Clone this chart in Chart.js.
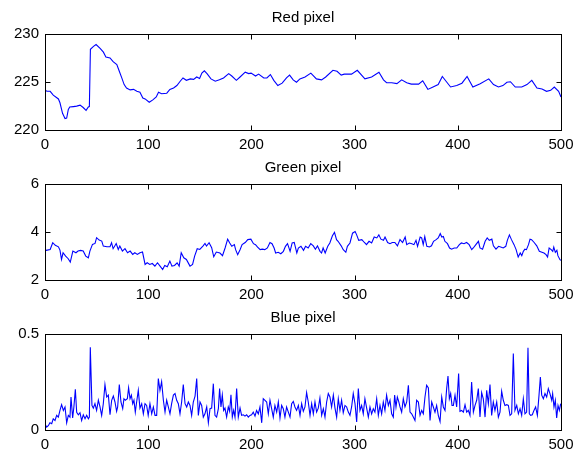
<!DOCTYPE html>
<html>
<head>
<meta charset="utf-8">
<script src="https://cdn.jsdelivr.net/npm/chart.js@4/dist/chart.umd.min.js"></script>
<style>
  body { margin: 0; background: #fff; }
  canvas { display: block; }
</style>
</head>
<body>
<canvas id="red" width="574" height="150"></canvas>
<canvas id="green" width="574" height="150"></canvas>
<canvas id="blue" width="574" height="150"></canvas>
<script>
// sample index / value pairs for each colour channel
const redT = [0, 2, 5, 8, 13, 14.5, 17, 19.4, 21, 22.6, 24, 27.5, 30.7, 34, 37, 39.8, 42, 43, 44, 47, 49.5, 53.4, 56.6, 59, 63, 66, 69.6, 72, 74.4, 76.7, 79, 82.5, 85.8, 89, 92, 94.8, 97, 101, 104.5, 107.8, 110, 113, 118, 121, 124.6, 127.8, 131, 133.7, 137, 140.8, 144, 147, 149.8, 152, 154.4, 157, 160.8, 165, 169, 173, 178, 181, 185.4, 189, 194, 197.4, 199.7, 204, 207, 212, 215, 218.4, 221.7, 225.6, 229.8, 234, 237, 240.5, 243.7, 247, 252, 257.6, 263, 268, 272, 279, 283, 287, 290, 297, 302.6, 310, 316.5, 323.6, 328, 331, 336, 341, 345.6, 350.5, 355, 362, 366, 371, 376, 381, 385, 389, 393, 399, 404, 409, 414.6, 421.7, 430, 434.6, 439.4, 443.7, 447.6, 451, 455.7, 462, 467, 471.7, 476.7, 481.6, 486, 490, 493.5, 497.7, 500];
const redV = [224.1, 224.0, 224.0, 223.6, 223.2, 222.8, 221.7, 221.15, 221.2, 222.1, 222.35, 222.4, 222.45, 222.55, 222.3, 222.0, 222.35, 222.4, 228.4, 228.7, 228.9, 228.5, 228.1, 227.6, 227.5, 227.1, 226.8, 226.1, 225.4, 224.7, 224.35, 224.15, 224.2, 224.0, 223.9, 223.3, 223.2, 222.85, 223.1, 223.4, 223.9, 223.75, 223.8, 224.2, 224.35, 224.6, 225.05, 225.4, 225.15, 225.3, 225.25, 225.5, 225.35, 225.9, 226.15, 225.85, 225.3, 225.05, 225.2, 225.4, 225.85, 225.6, 225.15, 225.5, 226.0, 225.85, 225.9, 225.6, 225.8, 225.4, 225.4, 225.75, 225.15, 224.6, 224.85, 225.4, 225.7, 225.2, 224.95, 225.3, 225.5, 225.9, 225.3, 225.2, 225.5, 226.2, 226.1, 225.7, 225.8, 225.8, 226.2, 225.3, 225.5, 226.0, 225.2, 224.9, 224.9, 224.8, 225.2, 224.9, 224.75, 224.75, 225.1, 224.2, 224.45, 224.7, 225.55, 225.0, 224.45, 224.6, 224.85, 225.55, 224.45, 224.8, 225.3, 224.7, 224.45, 224.6, 224.95, 225.0, 224.45, 224.45, 224.7, 225.15, 224.35, 224.25, 224.0, 224.1, 224.45, 224.0, 223.4];

const greenT = [0, 1, 5, 7.5, 10, 13, 14.5, 16, 17.5, 20, 22.5, 24.5, 27, 30, 32, 34.5, 37, 39.5, 42, 43.5, 46, 48.5, 50, 52.5, 55, 56.5, 60, 63, 64.5, 66, 69, 71, 72.5, 75, 77.5, 80, 82.5, 85, 87, 89.5, 92, 94.5, 97, 99, 101.5, 104, 106.5, 109, 111.5, 114, 116, 118.5, 121, 123, 125.5, 128, 130, 132, 134.5, 137, 140.5, 143, 145, 147.5, 150, 153, 155, 156.5, 159, 161.5, 163.5, 166, 169.5, 172, 174.5, 177, 179, 181, 183.5, 184.7, 186.7, 189, 191, 194, 196.5, 199.5, 202, 204, 206, 208.5, 210.5, 213, 215.5, 218, 220, 222, 223.5, 226, 228.5, 231, 233, 235, 237.5, 239.5, 241.5, 244, 245.5, 248, 250.5, 252.5, 255, 257.5, 260, 262, 264, 266.5, 268, 269.5, 271.5, 274, 276, 278.5, 280.5, 282.5, 284, 287, 289, 291.5, 293, 295.5, 298, 300.5, 302, 304, 307, 309.5, 311.5, 314, 316.5, 319, 321.5, 323.5, 325.5, 328, 329.5, 332, 334.3, 336.5, 339, 341.5, 344, 346.5, 349, 350.5, 353, 355.5, 357.5, 359.5, 361, 363.5, 365, 366.5, 368, 370, 372.5, 374.5, 376.5, 379, 381, 383, 384.5, 386, 387.5, 390, 392, 394, 396.5, 399, 401.5, 403.5, 406, 408.5, 411, 413.5, 415, 417.5, 420, 421.5, 424, 426.5, 428.5, 430.5, 433, 434.5, 437, 439.5, 441.5, 444, 446.5, 448, 450, 452, 454.5, 456.5, 458.5, 460.5, 462, 463.5, 465, 466.5, 468.5, 470, 471.5, 474, 476.5, 479, 481.5, 483.5, 485.5, 487, 488.5, 490.5, 492, 493, 494.5, 496, 497, 499, 500];
const greenV = [3.2, 3.22, 3.26, 3.54, 3.43, 3.37, 3.23, 2.84, 3.12, 2.98, 2.87, 2.73, 3.19, 3.12, 3.19, 3.22, 3.19, 2.98, 2.91, 3.19, 3.47, 3.51, 3.75, 3.65, 3.61, 3.4, 3.37, 3.37, 3.54, 3.29, 3.51, 3.26, 3.4, 3.19, 3.29, 3.12, 3.19, 3.05, 3.12, 3.05, 3.12, 3.15, 2.63, 2.7, 2.63, 2.67, 2.56, 2.7, 2.56, 2.42, 2.59, 2.53, 2.77, 2.56, 2.59, 2.7, 2.56, 3.12, 2.91, 2.84, 2.56, 2.63, 2.98, 3.29, 3.26, 3.4, 3.51, 3.4, 3.54, 3.33, 2.95, 3.15, 3.11, 3.0, 3.32, 3.69, 3.53, 3.39, 3.46, 3.25, 3.04, 3.25, 3.46, 3.55, 3.67, 3.69, 3.5, 3.46, 3.36, 3.25, 3.27, 3.25, 3.32, 3.55, 3.5, 3.32, 3.11, 3.14, 3.08, 3.18, 3.39, 3.5, 3.18, 3.53, 3.55, 3.11, 3.32, 3.39, 3.22, 3.39, 3.32, 3.5, 3.41, 3.27, 3.41, 3.18, 3.11, 3.32, 3.11, 3.39, 3.53, 3.83, 3.97, 3.67, 3.6, 3.41, 3.25, 3.14, 3.39, 3.53, 3.94, 4.01, 3.87, 3.64, 3.67, 3.55, 3.46, 3.6, 3.53, 3.78, 3.74, 3.87, 3.69, 3.64, 3.78, 3.55, 3.5, 3.55, 3.55, 3.41, 3.67, 3.55, 3.78, 3.46, 3.53, 3.5, 3.46, 3.64, 3.39, 3.78, 3.74, 3.46, 3.8, 3.39, 3.36, 3.41, 3.6, 3.67, 3.74, 3.92, 3.78, 3.8, 3.6, 3.5, 3.32, 3.27, 3.32, 3.32, 3.46, 3.53, 3.5, 3.55, 3.46, 3.25, 3.32, 3.46, 3.6, 3.32, 3.27, 3.6, 3.74, 3.64, 3.69, 3.41, 3.27, 3.39, 3.36, 3.32, 3.39, 3.64, 3.87, 3.67, 3.46, 3.25, 2.94, 3.11, 3.0, 3.18, 3.27, 3.25, 3.46, 3.69, 3.67, 3.55, 3.41, 3.18, 3.14, 3.11, 3.04, 2.94, 3.32, 3.25, 3.18, 3.36, 3.14, 3.22, 3.0, 2.83, 2.8];

const blueT = [0, 1.6, 3.2, 4.8, 6.5, 8, 9.7, 11.3, 12.9, 14.5, 16.1, 17.8, 19.4, 21, 22.6, 24.2, 25.2, 26.8, 28, 29.4, 30.7, 32.3, 33.9, 35.5, 37.1, 38.8, 40.4, 42, 43, 43.9, 45.5, 46.8, 48.4, 50, 51.7, 53.3, 54.9, 56.5, 58.1, 59.8, 61.4, 63, 64.6, 66.2, 67.8, 69.4, 70.4, 72, 73.6, 75.3, 76.5, 77.8, 79.8, 81, 82.4, 83.7, 85, 86.2, 87.5, 88.8, 90.4, 92, 93.7, 95.3, 96.9, 98.5, 100, 101.7, 103.4, 105, 106.6, 108.2, 109.8, 111.4, 113, 114.7, 116.3, 117.9, 119.5, 121.1, 122.7, 124.4, 126, 127.6, 129.2, 130.8, 132.4, 134, 135.7, 137.3, 138.9, 140.5, 142.1, 143.7, 145.4, 147, 148.6, 150.2, 151.8, 153.4, 155, 156.7, 158.3, 159.9, 161.5, 163.1, 164.7, 166.3, 168, 169.2, 170.5, 171.8, 173.1, 174.4, 176, 177.6, 178.9, 180.2, 181.5, 182.8, 184.1, 185.7, 187.3, 189, 190.5, 192.2, 193.8, 195.4, 197, 198.6, 200.2, 201.8, 203.5, 205, 206.7, 208.3, 210, 211.5, 213.2, 214.8, 216.4, 218, 219.6, 221.2, 222.8, 224.5, 226.1, 227.7, 229.3, 230.9, 232.5, 234.1, 235.8, 237.4, 239, 240.6, 242.2, 243.8, 245.5, 247.1, 248.7, 250.3, 251.9, 253.5, 255.1, 256.8, 258.4, 260, 261.6, 263.2, 264.8, 266.4, 268.1, 269.7, 271.3, 272.9, 274.5, 276.1, 277.7, 279.4, 281, 282.6, 284.2, 285.8, 287.4, 289, 290.7, 292.3, 293.9, 295.5, 297.1, 298.7, 300.4, 302, 303.6, 305.2, 306.8, 308.4, 310, 311.7, 313.3, 314.9, 316.5, 318.1, 319.7, 321.4, 323, 324.6, 326.2, 327.8, 329.4, 331, 332.7, 334.3, 335.9, 337.5, 338.8, 340.1, 341.4, 342.7, 344, 345.6, 347.2, 348.8, 350.5, 352.1, 353.7, 355.3, 356.9, 358.5, 360.1, 361.8, 363.4, 365, 366.6, 368.2, 369.8, 371.5, 373.1, 374.7, 376.3, 377.9, 379.5, 381.1, 382.8, 384.4, 386, 387.6, 389.2, 390.5, 391.8, 393.1, 394.4, 395.7, 397.3, 398.9, 400.8, 402.1, 403.7, 405.4, 407, 408.6, 410.2, 411.8, 413.4, 415.1, 416.7, 418.3, 419.9, 421.5, 423.1, 424.7, 426.4, 428, 429.6, 431.2, 432.8, 434.4, 436, 437.7, 439.3, 440.9, 442.5, 444.1, 445.7, 447.4, 449, 450.6, 452.2, 453.8, 455.4, 457.1, 458.7, 460.3, 461.9, 463.5, 465.1, 466.7, 468, 469.3, 470.6, 472.2, 473.8, 475.4, 477.1, 478.7, 480, 481.3, 482.9, 484.5, 486.1, 487.7, 489.3, 491, 491.9, 493.2, 494.5, 495.8, 497.1, 498.4, 499.7];
const blueV = [0.03, 0.012, 0.02, 0.035, 0.03, 0.056, 0.047, 0.074, 0.065, 0.1, 0.13, 0.1, 0.118, 0.035, 0.074, 0.065, 0.17, 0.06, 0.118, 0.21, 0.09, 0.077, 0.088, 0.047, 0.077, 0.056, 0.074, 0.056, 0.065, 0.43, 0.126, 0.112, 0.135, 0.1, 0.153, 0.118, 0.074, 0.135, 0.235, 0.17, 0.18, 0.077, 0.153, 0.175, 0.144, 0.095, 0.118, 0.235, 0.144, 0.109, 0.161, 0.153, 0.161, 0.218, 0.161, 0.18, 0.135, 0.153, 0.091, 0.144, 0.205, 0.112, 0.135, 0.082, 0.135, 0.126, 0.074, 0.135, 0.082, 0.118, 0.074, 0.074, 0.267, 0.205, 0.25, 0.153, 0.091, 0.153, 0.118, 0.082, 0.135, 0.18, 0.188, 0.153, 0.135, 0.082, 0.144, 0.235, 0.135, 0.118, 0.144, 0.126, 0.074, 0.144, 0.175, 0.267, 0.074, 0.144, 0.126, 0.065, 0.082, 0.118, 0.035, 0.109, 0.112, 0.24, 0.074, 0.065, 0.109, 0.214, 0.118, 0.18, 0.1, 0.112, 0.065, 0.118, 0.095, 0.182, 0.065, 0.1, 0.065, 0.214, 0.065, 0.112, 0.074, 0.077, 0.07, 0.077, 0.065, 0.074, 0.077, 0.091, 0.07, 0.1, 0.082, 0.118, 0.035, 0.161, 0.153, 0.144, 0.082, 0.153, 0.109, 0.065, 0.126, 0.091, 0.144, 0.06, 0.126, 0.109, 0.065, 0.118, 0.091, 0.065, 0.135, 0.147, 0.118, 0.1, 0.126, 0.074, 0.135, 0.095, 0.118, 0.193, 0.144, 0.074, 0.135, 0.082, 0.144, 0.091, 0.112, 0.165, 0.074, 0.109, 0.065, 0.144, 0.188, 0.17, 0.118, 0.18, 0.112, 0.065, 0.161, 0.1, 0.153, 0.088, 0.126, 0.118, 0.091, 0.074, 0.118, 0.188, 0.135, 0.039, 0.214, 0.1, 0.126, 0.082, 0.161, 0.112, 0.065, 0.118, 0.082, 0.109, 0.091, 0.161, 0.074, 0.126, 0.082, 0.144, 0.1, 0.18, 0.126, 0.153, 0.082, 0.065, 0.18, 0.118, 0.17, 0.147, 0.118, 0.091, 0.161, 0.118, 0.144, 0.232, 0.091, 0.082, 0.065, 0.047, 0.153, 0.144, 0.074, 0.1, 0.082, 0.17, 0.232, 0.218, 0.047, 0.144, 0.118, 0.091, 0.126, 0.074, 0.042, 0.17, 0.118, 0.1, 0.214, 0.28, 0.161, 0.188, 0.126, 0.126, 0.18, 0.118, 0.293, 0.095, 0.1, 0.091, 0.13, 0.091, 0.1, 0.074, 0.249, 0.091, 0.126, 0.153, 0.214, 0.065, 0.193, 0.161, 0.065, 0.205, 0.135, 0.235, 0.074, 0.144, 0.1, 0.144, 0.065, 0.091, 0.2, 0.153, 0.126, 0.13, 0.126, 0.074, 0.082, 0.398, 0.1, 0.126, 0.082, 0.109, 0.074, 0.161, 0.082, 0.091, 0.428, 0.082, 0.074, 0.077, 0.1, 0.118, 0.074, 0.18, 0.275, 0.18, 0.161, 0.188, 0.17, 0.214, 0.188, 0.153, 0.188, 0.118, 0.153, 0.06, 0.126, 0.1, 0.135];

const xTicks = [0, 100, 200, 300, 400, 500];
const redTicks = [220, 225, 230];
const greenTicks = [2, 4, 6];
const blueTicks = [0, 0.5];

const FONT = "'Liberation Sans', Arial, Helvetica, sans-serif";

function pairs(t, v) {
  return t.map((x, i) => ({ x: x, y: v[i] }));
}

// matlab-like axes box: full frame, inward ticks on all four sides, title above
const boxAxes = {
  id: 'boxAxes',
  afterDraw(chart, args, opts) {
    const ctx = chart.ctx;
    const a = chart.chartArea;
    const xs = chart.scales.x, ys = chart.scales.y;
    const L = Math.round(a.left) + 0.5, R = Math.round(a.right) + 0.5;
    const T = Math.round(a.top) + 0.5, B = Math.round(a.bottom) + 0.5;
    ctx.save();
    ctx.strokeStyle = '#000';
    ctx.lineWidth = 1;
    ctx.strokeRect(L, T, R - L, B - T);
    ctx.beginPath();
    xs.ticks.forEach(t => {
      const px = Math.round(xs.getPixelForValue(t.value)) + 0.5;
      ctx.moveTo(px, B); ctx.lineTo(px, B - 5);
      ctx.moveTo(px, T); ctx.lineTo(px, T + 5);
    });
    ys.ticks.forEach(t => {
      const py = Math.round(ys.getPixelForValue(t.value)) + 0.5;
      ctx.moveTo(L, py); ctx.lineTo(L + 5, py);
      ctx.moveTo(R, py); ctx.lineTo(R - 5, py);
    });
    ctx.stroke();
    ctx.fillStyle = '#000';
    ctx.font = '15px ' + FONT;
    ctx.textAlign = 'center';
    ctx.textBaseline = 'alphabetic';
    ctx.fillText(opts.title, (a.left + a.right) / 2, 21.5);
    ctx.restore();
  }
};

function makeChart(id, title, t, v, yTicks) {
  new Chart(document.getElementById(id), {
    type: 'line',
    data: {
      datasets: [{
        data: pairs(t, v),
        borderColor: '#0000ff',
        borderWidth: 1.1,
        pointRadius: 0,
        tension: 0,
        fill: false
      }]
    },
    options: {
      responsive: false,
      animation: false,
      devicePixelRatio: 1,
      layout: { padding: { top: 34, right: 13, left: 0, bottom: 0 } },
      plugins: {
        legend: { display: false },
        tooltip: { enabled: false },
        boxAxes: { title: title }
      },
      scales: {
        x: {
          type: 'linear',
          min: xTicks[0],
          max: xTicks[xTicks.length - 1],
          afterBuildTicks: s => { s.ticks = xTicks.map(value => ({ value })); },
          afterFit: s => { s.height = 20.5; s.paddingLeft = 0; s.paddingRight = 0; },
          grid: { display: false, drawTicks: false },
          border: { display: false },
          ticks: { color: '#000', font: { family: FONT, size: 15 }, padding: 6, maxRotation: 0 }
        },
        y: {
          type: 'linear',
          min: yTicks[0],
          max: yTicks[yTicks.length - 1],
          afterBuildTicks: s => { s.ticks = yTicks.map(value => ({ value })); },
          afterFit: s => { s.width = 45; s.paddingTop = 0; s.paddingBottom = 0; },
          grid: { display: false, drawTicks: false },
          border: { display: false },
          ticks: { color: '#000', font: { family: FONT, size: 15 }, padding: 6 }
        }
      }
    },
    plugins: [boxAxes]
  });
}

makeChart('red', 'Red pixel', redT, redV, redTicks);
makeChart('green', 'Green pixel', greenT, greenV, greenTicks);
makeChart('blue', 'Blue pixel', blueT, blueV, blueTicks);
</script>
</body>
</html>
